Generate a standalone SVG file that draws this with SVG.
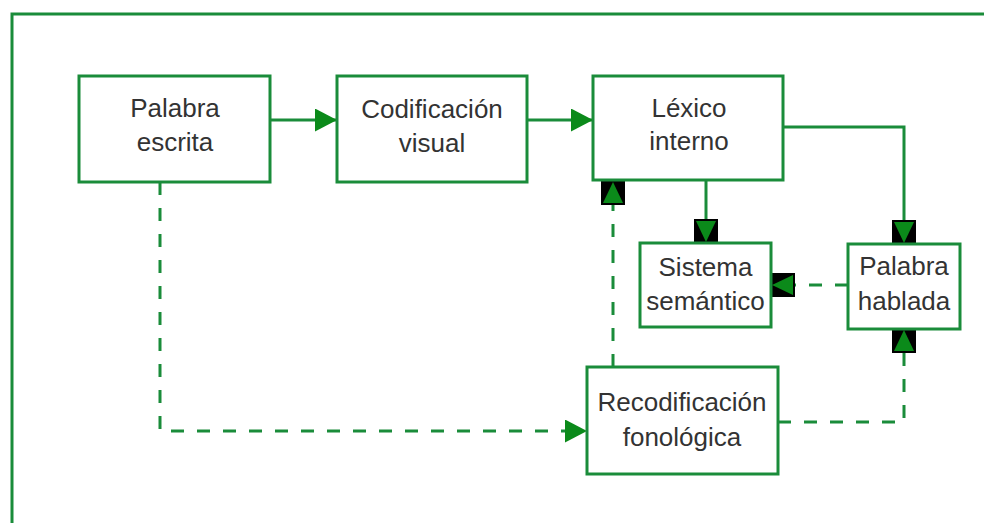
<svg xmlns="http://www.w3.org/2000/svg" width="984" height="523" viewBox="0 0 984 523">
<style>
.box{fill:#fff;stroke:#1a8c3a;stroke-width:3}
.t{font-family:"Liberation Sans",Arial,sans-serif;font-size:26px;fill:#333;text-anchor:middle}
.c{fill:none;stroke:#1a8c3a;stroke-width:3}
.d{stroke-dasharray:13 13}
</style>
<defs>
<marker id="tri" viewBox="0 0 22 23" refX="22" refY="11.5" markerWidth="22" markerHeight="23" markerUnits="userSpaceOnUse" orient="auto">
<path d="M0,0 L22,11.5 L0,23 Z" fill="#0b8a1a" stroke="none"/>
</marker>
<marker id="sq" viewBox="0 0 24 24" refX="24" refY="12" markerWidth="24" markerHeight="24" markerUnits="userSpaceOnUse" orient="auto">
<rect x="0" y="0" width="24" height="24" fill="#000" stroke="none"/>
<path d="M2,2 L23,12 L2,22 Z" fill="#0b8a1a" stroke="none"/>
</marker>
</defs>
<rect width="984" height="523" fill="#fff"/>
<path d="M12,523 V14 H984" fill="none" stroke="#1a8c3a" stroke-width="3"/>
<g id="connectors">
<path class="c" d="M270,120 H337" marker-end="url(#tri)"/>
<path class="c" d="M527,120 H593" marker-end="url(#tri)"/>
<path class="c" d="M783,127 H904 V244" marker-end="url(#sq)"/>
<path class="c" d="M706,180 V243" marker-end="url(#sq)"/>
<path class="c d" d="M613,367 V181" marker-end="url(#sq)"/>
<path class="c d" d="M848,285 H771" marker-end="url(#sq)"/>
<path class="c d" d="M778,422 H904 V329" marker-end="url(#sq)"/>
<path class="c d" d="M160,182 V431 H587" marker-end="url(#tri)"/>
</g>
<g id="palabra-escrita">
<rect class="box" x="79" y="76" width="191" height="106"/>
<text class="t" x="175" y="117">Palabra</text>
<text class="t" x="175" y="151">escrita</text>
</g>
<g id="codificacion-visual">
<rect class="box" x="337" y="76" width="190" height="106"/>
<text class="t" x="432" y="118">Codificación</text>
<text class="t" x="432" y="152">visual</text>
</g>
<g id="lexico-interno">
<rect class="box" x="593" y="76" width="190" height="104"/>
<text class="t" x="689" y="117">Léxico</text>
<text class="t" x="689" y="150">interno</text>
</g>
<g id="sistema-semantico">
<rect class="box" x="640" y="243" width="131" height="84"/>
<text class="t" x="705.5" y="276">Sistema</text>
<text class="t" x="705.5" y="310">semántico</text>
</g>
<g id="palabra-hablada">
<rect class="box" x="848" y="244" width="112" height="85"/>
<text class="t" x="904" y="275">Palabra</text>
<text class="t" x="904" y="310">hablada</text>
</g>
<g id="recodificacion-fonologica">
<rect class="box" x="587" y="367" width="191" height="107"/>
<text class="t" x="682" y="411">Recodificación</text>
<text class="t" x="682" y="446">fonológica</text>
</g>
</svg>
